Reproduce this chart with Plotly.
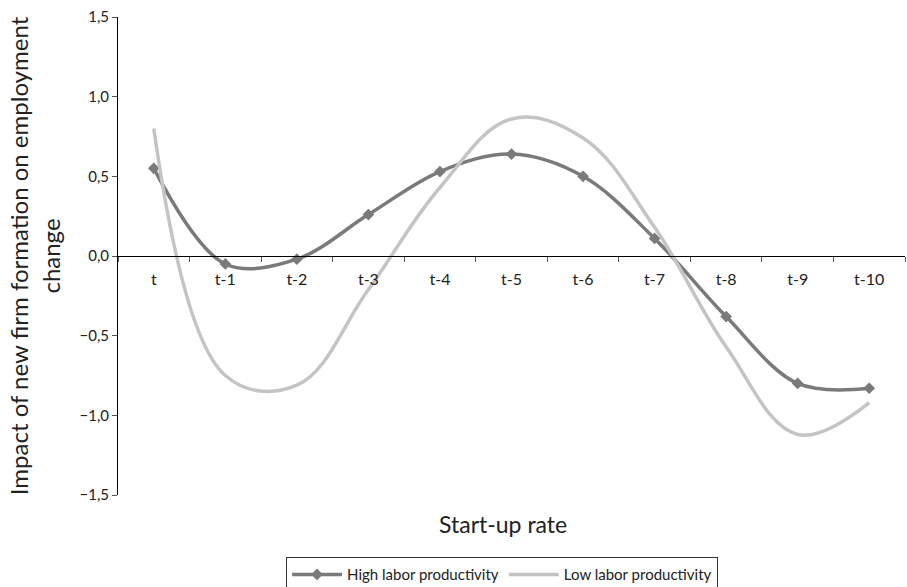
import plotly.graph_objects as go

# Lag categories and estimated effects per productivity group
lags = ["t", "t-1", "t-2", "t-3", "t-4", "t-5", "t-6", "t-7", "t-8", "t-9", "t-10"]
high_productivity = [0.55, -0.05, -0.02, 0.26, 0.53, 0.64, 0.50, 0.11, -0.38, -0.80, -0.83]
low_productivity = [0.80, -0.75, -0.81, -0.21, 0.43, 0.86, 0.74, 0.18, -0.57, -1.12, -0.92]
y_ticks = [-1.5, -1.0, -0.5, 0.0, 0.5, 1.0, 1.5]

FONT = "Lato, 'Open Sans', sans-serif"

fig = go.Figure()
fig.add_trace(go.Scatter(
    x=lags, y=high_productivity, name="High labor productivity",
    mode="lines+markers",
    line=dict(color="#7a7a7a", width=3.5, shape="spline", smoothing=1.0),
    marker=dict(symbol="diamond", size=9, color="#7a7a7a"),
))
fig.add_trace(go.Scatter(
    x=lags, y=low_productivity, name="Low labor productivity",
    mode="lines",
    line=dict(color="#c4c4c4", width=3.5, shape="spline", smoothing=1.1),
))

fig.update_layout(
    width=907, height=587,
    margin=dict(l=118, r=2, t=17, b=92, autoexpand=False),
    paper_bgcolor="white", plot_bgcolor="white",
    separators=",.",
    font=dict(family=FONT, color="#222222", size=14),
    showlegend=True,
    legend=dict(
        orientation="h", x=0.488, xanchor="center", y=-0.13, yanchor="top",
        bordercolor="#333333", borderwidth=1, font=dict(size=15),
        itemwidth=50,
    ),
    xaxis=dict(
        type="category", range=[-0.5, 10.5],
        anchor="free", position=0.5,
        showline=True, linecolor="black", linewidth=1,
        ticks="outside", ticklen=5, tickcolor="#555555", tickson="boundaries",
        showgrid=False, zeroline=False,
        tickfont=dict(size=16), ticklabelstandoff=9,
    ),
    yaxis=dict(
        range=[-1.5, 1.5], tickvals=y_ticks, tickformat=".1f",
        showline=True, linecolor="black", linewidth=1,
        ticks="outside", ticklen=5, tickcolor="#555555",
        showgrid=False, zeroline=False,
        tickfont=dict(size=15),
        title=dict(text="Impact of new firm formation on employment<br>change",
                   font=dict(size=24), standoff=12),
    ),
    annotations=[dict(
        text="Start-up rate", xref="paper", yref="paper",
        x=0.489, y=-0.06, xanchor="center", yanchor="middle",
        showarrow=False, font=dict(size=23),
    )],
)

fig.write_html("out.html")
